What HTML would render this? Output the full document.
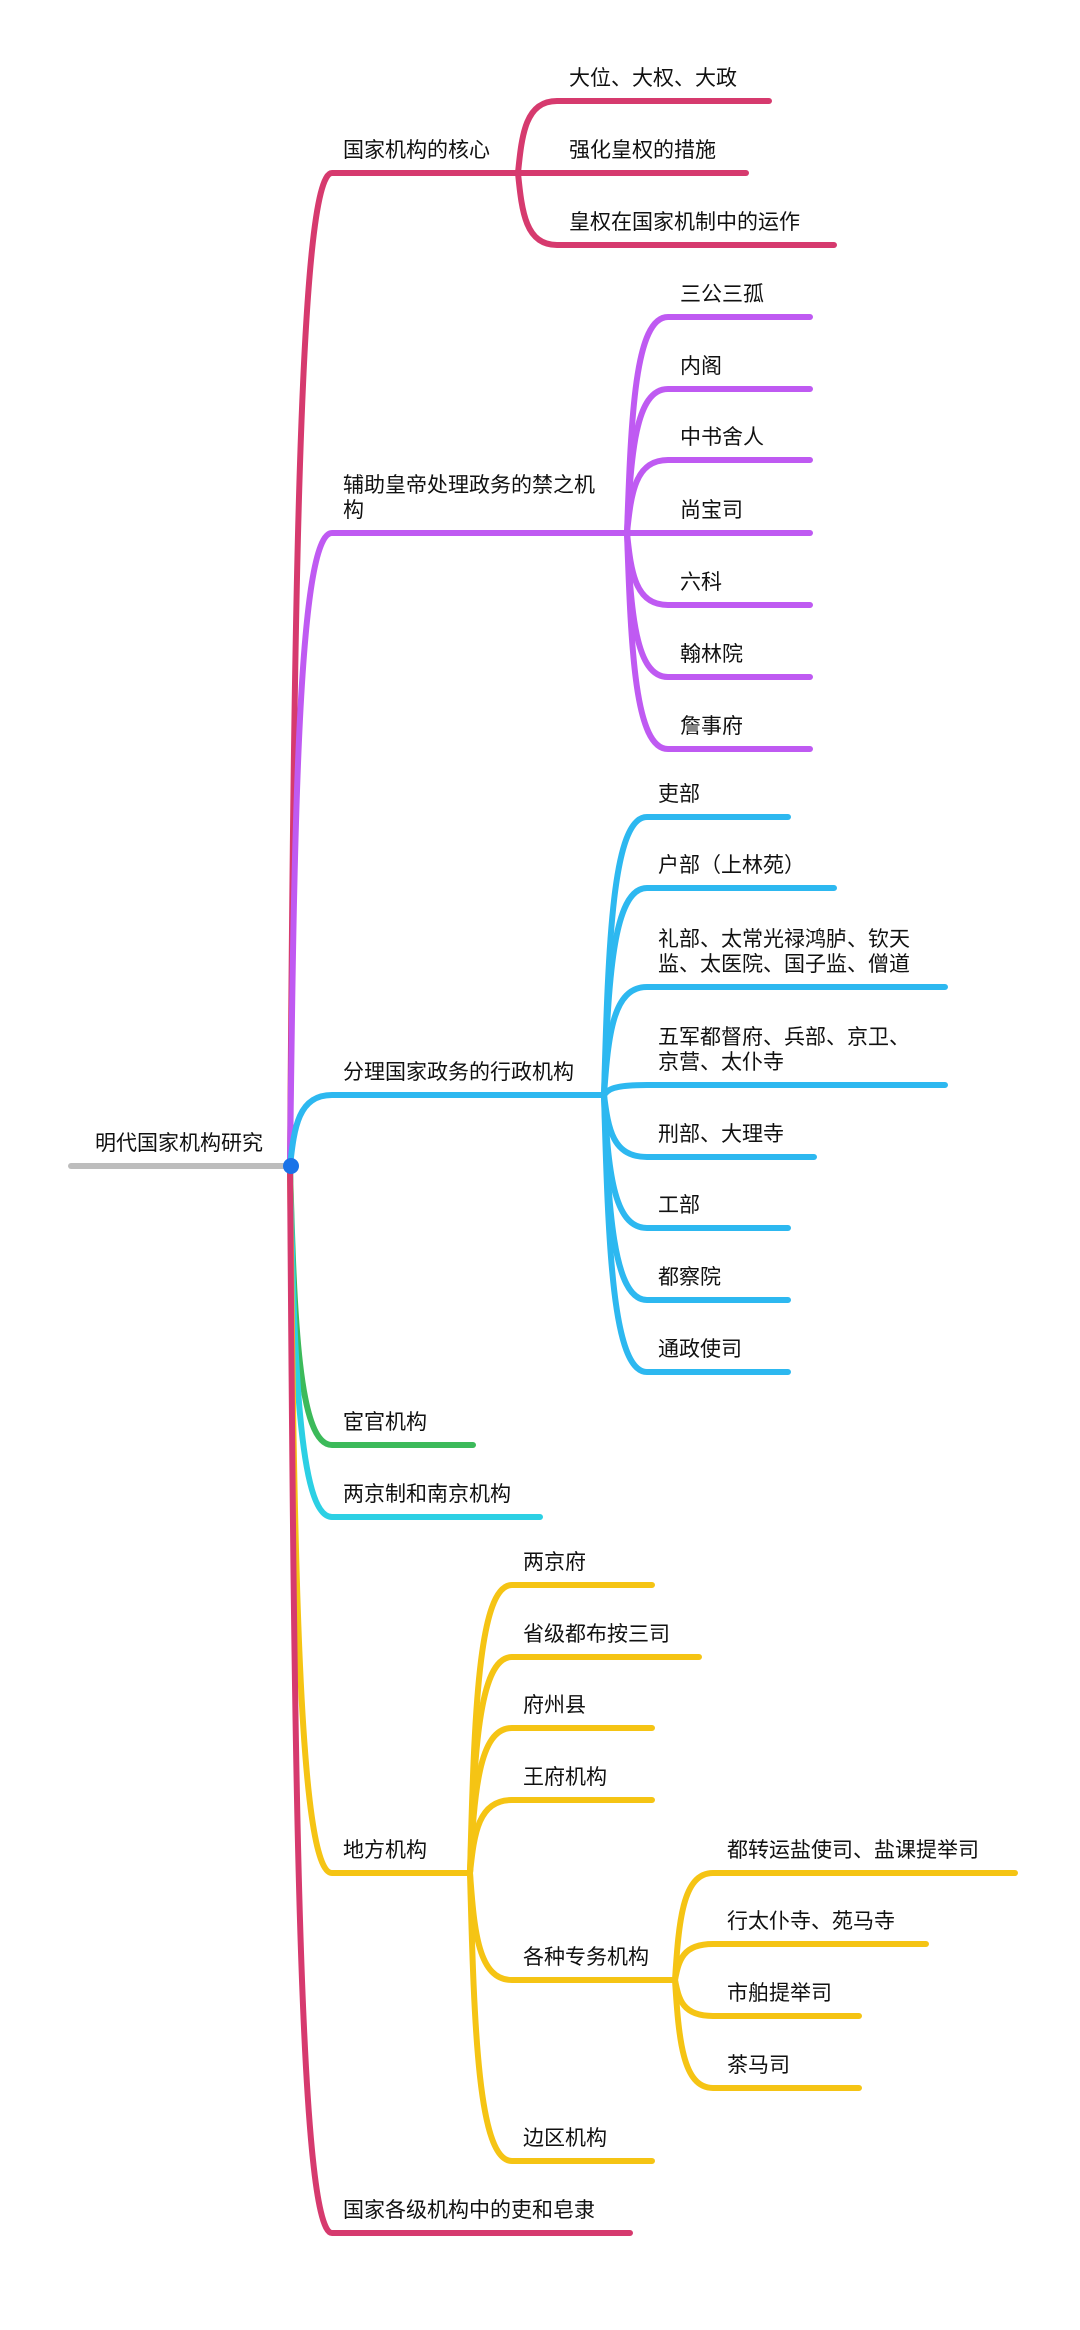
<!DOCTYPE html>
<html><head><meta charset="utf-8">
<style>
html,body{margin:0;padding:0;background:#fff;}
svg{display:block;}
text{font-family:"Liberation Sans","Noto Sans CJK SC",sans-serif;font-size:21px;fill:#111;}
</style></head>
<body>
<svg id="s" width="1080" height="2330" viewBox="0 0 1080 2330" xmlns="http://www.w3.org/2000/svg">
<g id="paths" fill="none" stroke-width="6" stroke-linecap="round"></g>
<line x1="71" y1="1166" x2="290" y2="1166" stroke="#bdbdbd" stroke-width="6" stroke-linecap="round"/>
<circle cx="291" cy="1166" r="8" fill="#1a73e8"/>
<text x="95" y="1150">明代国家机构研究</text>

<text x="343" y="157">国家机构的核心</text>
<text x="569" y="85">大位、大权、大政</text>
<text x="569" y="157">强化皇权的措施</text>
<text x="569" y="229">皇权在国家机制中的运作</text>

<text x="343" y="492">辅助皇帝处理政务的禁之机</text>
<text x="343" y="517">构</text>
<text x="680" y="301">三公三孤</text>
<text x="680" y="373">内阁</text>
<text x="680" y="444">中书舍人</text>
<text x="680" y="517">尚宝司</text>
<text x="680" y="589">六科</text>
<text x="680" y="661">翰林院</text>
<text x="680" y="733">詹事府</text>

<text x="343" y="1079">分理国家政务的行政机构</text>
<text x="658" y="801">吏部</text>
<text x="658" y="872">户部（上林苑）</text>
<text x="658" y="946">礼部、太常光禄鸿胪、钦天</text>
<text x="658" y="971">监、太医院、国子监、僧道</text>
<text x="658" y="1044">五军都督府、兵部、京卫、</text>
<text x="658" y="1069">京营、太仆寺</text>
<text x="658" y="1141">刑部、大理寺</text>
<text x="658" y="1212">工部</text>
<text x="658" y="1284">都察院</text>
<text x="658" y="1356">通政使司</text>

<text x="343" y="1429">宦官机构</text>
<text x="343" y="1501">两京制和南京机构</text>

<text x="343" y="1857">地方机构</text>
<text x="523" y="1569">两京府</text>
<text x="523" y="1641">省级都布按三司</text>
<text x="523" y="1712">府州县</text>
<text x="523" y="1784">王府机构</text>
<text x="523" y="1964">各种专务机构</text>
<text x="523" y="2145">边区机构</text>
<text x="727" y="1857">都转运盐使司、盐课提举司</text>
<text x="727" y="1928">行太仆寺、苑马寺</text>
<text x="727" y="2000">市舶提举司</text>
<text x="727" y="2072">茶马司</text>

<text x="343" y="2217">国家各级机构中的吏和皂隶</text>
</svg>
<script>
var R="#d63a6e",P="#bf5af2",B="#2db8f0",G="#3cba5a",C="#2cd0e4",Y="#f5c414";
var E=[
[290,1166,332,173,518,R],[290,1166,332,533,627,P],[290,1166,332,1095,604,B],
[290,1166,332,1445,473,G],[290,1166,332,1517,540,C],[290,1166,332,1873,470,Y],[290,1166,332,2233,630,R],
[518,173,557,101,769,R],[518,173,557,173,746,R],[518,173,557,245,834,R],
[627,533,668,317,810,P],[627,533,668,389,810,P],[627,533,668,460,810,P],[627,533,668,533,810,P],[627,533,668,605,810,P],[627,533,668,677,810,P],[627,533,668,749,810,P],
[604,1095,647,817,788,B],[604,1095,647,888,834,B],[604,1095,647,987,945,B],[604,1095,647,1085,945,B],[604,1095,647,1157,814,B],[604,1095,647,1228,788,B],[604,1095,647,1300,788,B],[604,1095,647,1372,788,B],
[470,1873,512,1585,652,Y],[470,1873,512,1657,699,Y],[470,1873,512,1728,652,Y],[470,1873,512,1800,652,Y],[470,1873,512,1980,675,Y],[470,1873,512,2161,652,Y],
[675,1980,713,1873,1015,Y],[675,1980,713,1944,926,Y],[675,1980,713,2016,859,Y],[675,1980,713,2088,859,Y]
];
var g=document.getElementById("paths"),h="";
E.forEach(function(e){var x0=e[0],y0=e[1],x1=e[2],y1=e[3],xe=e[4],dx=x1-x0,dy=y1-y0;
var d="M"+x0+","+y0+" C"+(x0+dx*0.1)+","+(y0+dy*0.55)+" "+(x0+dx*0.2)+","+y1+" "+x1+","+y1+" L"+xe+","+y1;
h+='<path d="'+d+'" stroke="'+e[5]+'"/>';});
g.innerHTML=h;
</script>
</body></html>
